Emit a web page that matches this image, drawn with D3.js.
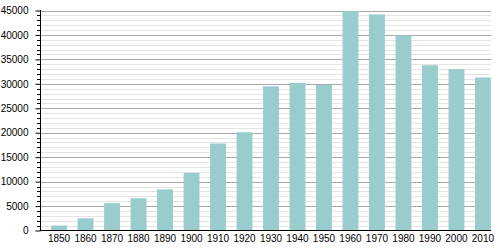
<!doctype html>
<html lang="en">
  <head>
    <meta charset="UTF-8" />
    <title>Population</title>
    <script src="https://d3js.org/d3.v7.min.js"></script>
    <style>
      html,
      body {
        margin: 0;
        padding: 0;
        background: #fff;
        overflow: hidden;
      }
      text {
        font-family: "Liberation Sans", Arial, sans-serif;
        font-size: 10px;
        fill: #000;
      }
    </style>
  </head>
  <body>
    <svg id="chart" width="500" height="250"></svg>
    <script>
      const years = ["1850", "1860", "1870", "1880", "1890", "1900", "1910", "1920", "1930",
        "1940", "1950", "1960", "1970", "1980", "1990", "2000", "2010"];
      const population = [1000, 2500, 5600, 6600, 8400, 11800, 17800, 20100, 29500,
        30200, 29800, 44900, 44200, 39900, 33800, 33000, 31300];
      const yTicks = [0, 5000, 10000, 15000, 20000, 25000, 30000, 35000, 40000, 45000];

      const mLeft = 40, mRight = 491, mTop = 10.5, mBottom = 230.5;
      const svg = d3.select("#chart");

      const x = d3.scaleBand().domain(years).range([mLeft, 502]).paddingInner(0.4).paddingOuter(0.42);
      const y = d3.scaleLinear().domain([0, 45000]).range([mBottom, mTop]);

      // minor grid every 1000
      const minor = d3.range(1000, 45001, 1000).filter((v) => v % 5000 !== 0);
      svg.append("g")
        .selectAll("line")
        .data(minor)
        .enter()
        .append("line")
        .attr("x1", mLeft - 3)
        .attr("x2", mRight)
        .attr("y1", (d) => Math.round(y(d)) + 0.5)
        .attr("y2", (d) => Math.round(y(d)) + 0.5)
        .attr("stroke", "#e4e4e4");

      // major grid
      svg.append("g")
        .selectAll("line")
        .data(yTicks.slice(1))
        .enter()
        .append("line")
        .attr("x1", mLeft)
        .attr("x2", mRight)
        .attr("y1", (d) => Math.round(y(d)) + 0.5)
        .attr("y2", (d) => Math.round(y(d)) + 0.5)
        .attr("stroke", "#a8a8a8");

      // bars
      svg.append("g")
        .selectAll("rect")
        .data(population)
        .enter()
        .append("rect")
        .attr("x", (d, i) => x(years[i]))
        .attr("width", x.bandwidth())
        .attr("y", (d) => y(d))
        .attr("height", (d) => y(0) - y(d))
        .attr("fill", "#99cccc");

      // minor ticks on the y axis
      svg.append("g")
        .selectAll("line")
        .data(minor)
        .enter()
        .append("line")
        .attr("x1", mLeft - 3)
        .attr("x2", mLeft)
        .attr("y1", (d) => Math.round(y(d)) + 0.5)
        .attr("y2", (d) => Math.round(y(d)) + 0.5)
        .attr("stroke", "#000");

      // y axis
      const yAxis = svg.append("g").attr("transform", `translate(${mLeft + 0.5},0)`);
      yAxis.call(d3.axisLeft(y).tickValues(yTicks).tickSize(5).tickPadding(7).tickFormat(d3.format("d")));
      yAxis.select(".domain").remove();
      yAxis.append("line").attr("y1", mTop - 0.5).attr("y2", mBottom).attr("stroke", "#000");
      yAxis.attr("font-size", null).attr("font-family", null);

      // x axis
      svg.append("line")
        .attr("x1", mLeft)
        .attr("x2", mRight)
        .attr("y1", mBottom)
        .attr("y2", mBottom)
        .attr("stroke", "#000");

      svg.append("g")
        .selectAll("text")
        .data(years)
        .enter()
        .append("text")
        .attr("x", (d) => x(d) + x.bandwidth() / 2)
        .attr("y", 242)
        .attr("text-anchor", "middle")
        .text((d) => d);
    </script>
  </body>
</html>
